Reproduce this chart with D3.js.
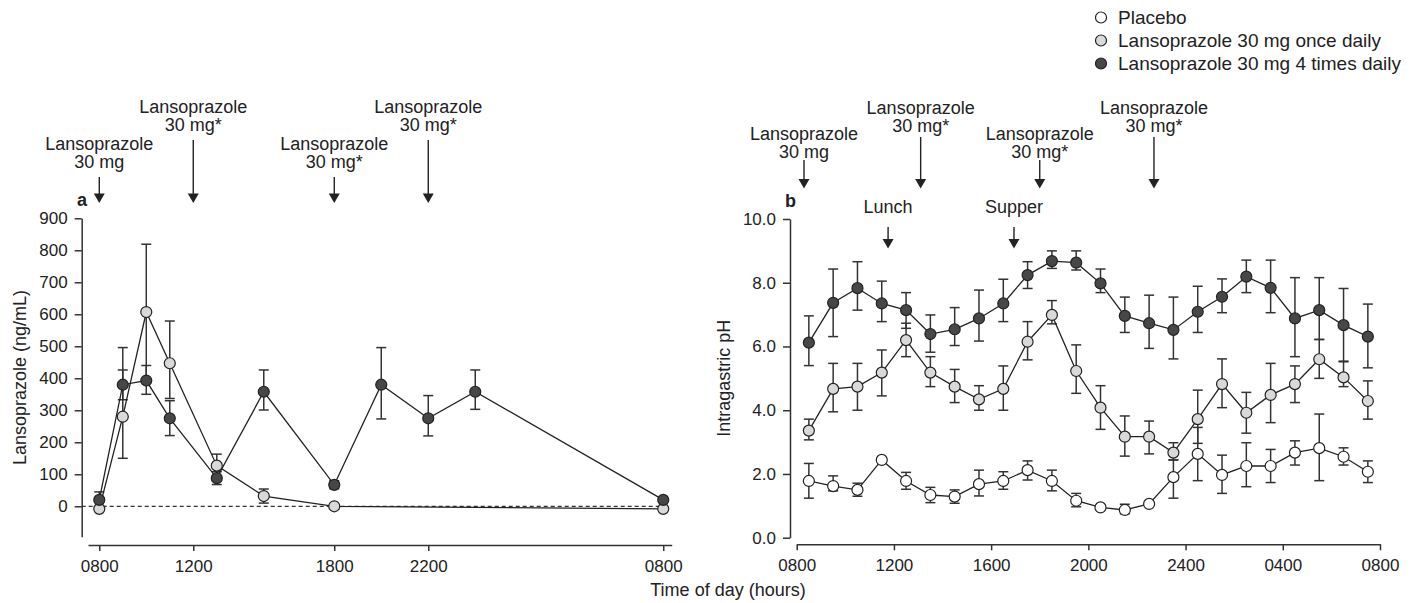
<!DOCTYPE html>
<html>
<head>
<meta charset="utf-8">
<script src="https://cdn.jsdelivr.net/npm/d3@7"></script>
<style>
  body { margin: 0; background: #fff; }
  svg text { font-family: "Liberation Sans", Arial, Helvetica, sans-serif; fill: #222; }
</style>
</head>
<body>
<svg id="chart" width="1415" height="603"></svg>
<script>
// ---- panel a: plasma lansoprazole (ng/mL) ----
const aQidHours = [8, 9, 10, 11, 13, 15, 18, 20, 22, 24, 32];
const aQid   = [20, 380, 393, 275, 88, 358, 67, 380, 275, 358, 20];
const aQidHi = [45, 426, 440, 330, 108, 426, 80, 496, 346, 426, 20];
const aQidLo = [0, 333, 350, 221, 68, 301, 55, 273, 220, 303, 20];

const aOnceHours = [8, 9, 10, 11, 13, 15, 18, 32];
const aOnce   = [-8, 280, 607, 447, 127, 32, 0, -8];
const aOnceHi = [-8, 496, 819, 579, 163, 54, 0, -8];
const aOnceLo = [-8, 150, 394, 337, 92, 10, 0, -8];

const aYTicks = [0, 100, 200, 300, 400, 500, 600, 700, 800, 900];
const aXTicks = [8, 12, 18, 22, 32];
const aXLabels = ["0800", "1200", "1800", "2200", "0800"];

const aDoseHours = [8, 12, 18, 22];
const aDoseRow = [1, 0, 1, 0];
const aDoseText = [["Lansoprazole", "30 mg"], ["Lansoprazole", "30 mg*"],
                   ["Lansoprazole", "30 mg*"], ["Lansoprazole", "30 mg*"]];

// ---- panel b: intragastric pH ----
const bHours = [8.5, 9.5, 10.5, 11.5, 12.5, 13.5, 14.5, 15.5, 16.5, 17.5, 18.5, 19.5,
                20.5, 21.5, 22.5, 23.5, 24.5, 25.5, 26.5, 27.5, 28.5, 29.5, 30.5, 31.5];

const bPlacebo   = [1.78, 1.62, 1.50, 2.44, 1.78, 1.34, 1.29, 1.68, 1.78, 2.12, 1.78, 1.16,
                    0.95, 0.87, 1.06, 1.90, 2.63, 1.97, 2.25, 2.25, 2.67, 2.81, 2.54, 2.07];
const bPlaceboHi = [2.33, 1.94, 1.71, 2.44, 2.05, 1.58, 1.50, 2.12, 2.07, 2.41, 2.12, 1.39,
                    0.95, 1.05, 1.06, 2.44, 3.46, 2.59, 2.98, 2.77, 3.04, 3.88, 2.82, 2.41];
const bPlaceboLo = [1.24, 1.47, 1.30, 2.44, 1.52, 1.10, 1.08, 1.31, 1.52, 1.81, 1.47, 0.97,
                    0.95, 0.75, 1.06, 1.24, 1.79, 1.39, 1.60, 1.73, 2.28, 1.79, 2.28, 1.73];

const bOnce   = [3.36, 4.67, 4.74, 5.18, 6.20, 5.18, 4.74, 4.34, 4.67, 6.15, 6.99, 5.23,
                 4.08, 3.17, 3.17, 2.67, 3.72, 4.82, 3.92, 4.48, 4.82, 5.60, 5.03, 4.29];
const bOnceHi = [3.72, 5.47, 5.47, 5.89, 6.73, 5.68, 5.28, 4.77, 5.39, 6.78, 7.44, 6.05,
                 4.77, 3.82, 3.66, 2.98, 4.63, 5.61, 4.56, 5.47, 5.39, 6.22, 5.52, 4.92];
const bOnceLo = [3.07, 3.95, 4.00, 4.45, 5.68, 4.74, 4.24, 4.00, 4.00, 5.58, 6.71, 4.53,
                 3.40, 2.56, 2.63, 2.44, 2.96, 4.08, 3.28, 3.61, 4.24, 5.00, 4.74, 3.72];

const bQid   = [6.12, 7.37, 7.83, 7.35, 7.14, 6.39, 6.54, 6.88, 7.35, 8.24, 8.68, 8.63,
                7.98, 6.96, 6.73, 6.52, 7.09, 7.56, 8.19, 7.84, 6.88, 7.14, 6.67, 6.31];
const bQidHi = [6.96, 8.43, 8.66, 8.05, 7.69, 6.99, 7.22, 7.77, 8.11, 8.66, 9.00, 9.00,
                8.43, 7.55, 7.61, 7.55, 7.89, 8.12, 8.71, 8.71, 8.16, 8.16, 7.82, 7.33];
const bQidLo = [5.40, 6.31, 7.14, 6.78, 6.57, 5.82, 6.03, 6.17, 6.78, 7.82, 8.45, 8.40,
                7.69, 6.44, 5.94, 5.61, 6.44, 7.06, 7.69, 7.06, 5.68, 6.22, 5.54, 5.33];

const bYTicks = [0, 2, 4, 6, 8, 10];
const bXTicks = [8, 12, 16, 20, 24, 28, 32];
const bXLabels = ["0800", "1200", "1600", "2000", "2400", "0400", "0800"];

const bDoseHours = [8.3, 13.1, 18, 22.7];
const bDoseRow = [1, 0, 1, 0];
const bDoseText = aDoseText;
const bMealHours = [11.76, 16.94];
const bMealText = ["Lunch", "Supper"];

const legendLabels = ["Placebo", "Lansoprazole 30 mg once daily", "Lansoprazole 30 mg 4 times daily"];
const fills = ["#ffffff", "#d9d9d9", "#474747"];

const ink = "#222";
const svg = d3.select("#chart");

// scales
const xa = d3.scaleLinear().domain([7.52, 32.36]).range([88, 671.7]);
const ya = d3.scaleLinear().domain([-95, 900]).range([536.7, 218.3]);
const xb = d3.scaleLinear().domain([8, 32]).range([796.7, 1380]);
const yb = d3.scaleLinear().domain([0, 10]).range([537.7, 219]);

function styleAxis(g) {
  g.select(".domain").attr("stroke", "#333").attr("stroke-width", 1.5);
  g.selectAll(".tick line").attr("stroke", "#333").attr("stroke-width", 1.5);
  g.selectAll(".tick text").style("font-size", "17px").attr("fill", ink);
}

// axes a
svg.append("g").attr("transform", "translate(81.7,0)")
  .call(d3.axisLeft(ya).tickValues(aYTicks).tickSize(7).tickPadding(7).tickSizeOuter(0))
  .call(styleAxis);
svg.append("g").attr("transform", "translate(0,545)")
  .call(d3.axisBottom(xa).tickValues(aXTicks).tickFormat((d, i) => aXLabels[i])
    .tickSize(6).tickPadding(9).tickSizeOuter(0))
  .call(styleAxis);

// axes b
svg.append("g").attr("transform", "translate(790,0)")
  .call(d3.axisLeft(yb).tickValues(bYTicks).tickFormat(d3.format(".1f"))
    .tickSize(7).tickPadding(7).tickSizeOuter(0))
  .call(styleAxis);
svg.append("g").attr("transform", "translate(0,544.3)")
  .call(d3.axisBottom(xb).tickValues(bXTicks).tickFormat((d, i) => bXLabels[i])
    .tickSize(6).tickPadding(9).tickSizeOuter(0))
  .call(styleAxis);

// zero reference in panel a
svg.append("line")
  .attr("x1", 81.7).attr("x2", xa(32))
  .attr("y1", ya(0)).attr("y2", ya(0))
  .attr("stroke", "#333").attr("stroke-width", 1.2)
  .attr("stroke-dasharray", "4,3");

// axis titles
svg.append("text").attr("transform", "translate(25.5," + (ya(900) + ya(-95)) / 2 + ") rotate(-90)")
  .attr("text-anchor", "middle").style("font-size", "18px").text("Lansoprazole (ng/mL)");
svg.append("text").attr("transform", "translate(729.8," + (yb(10) + yb(0)) / 2 + ") rotate(-90)")
  .attr("text-anchor", "middle").style("font-size", "18px").text("Intragastric pH");
svg.append("text").attr("x", 728).attr("y", 596)
  .attr("text-anchor", "middle").style("font-size", "18px").text("Time of day (hours)");

svg.append("text").attr("x", 77).attr("y", 206)
  .style("font-size", "18px").style("font-weight", "bold").text("a");
svg.append("text").attr("x", 785).attr("y", 206.5)
  .style("font-size", "18px").style("font-weight", "bold").text("b");

function arrow(x, y1, y2) {
  svg.append("line").attr("x1", x).attr("x2", x).attr("y1", y1).attr("y2", y2 - 8)
    .attr("stroke", ink).attr("stroke-width", 1.4);
  svg.append("path")
    .attr("d", `M${x - 5.5},${y2 - 9.5}L${x + 5.5},${y2 - 9.5}L${x},${y2}Z`)
    .attr("fill", ink);
}

function label(x, baseline, lines) {
  lines.forEach((t, i) => {
    svg.append("text").attr("x", x).attr("y", baseline + i * 18)
      .attr("text-anchor", "middle").style("font-size", "18px").text(t);
  });
}

// dose annotations a
aDoseHours.forEach((h, i) => {
  const x = xa(h);
  if (aDoseRow[i] === 0) { label(x, 112.5, aDoseText[i]); arrow(x, 140, 203); }
  else { label(x, 149.5, aDoseText[i]); arrow(x, 177, 203); }
});

// dose annotations b
bDoseHours.forEach((h, i) => {
  const x = xb(h);
  if (bDoseRow[i] === 0) { label(x, 113.5, bDoseText[i]); arrow(x, 137, 188.5); }
  else { label(x, 139.5, bDoseText[i]); arrow(x, 160, 188.5); }
});
bMealHours.forEach((h, i) => {
  const x = xb(h);
  label(x, 213, [bMealText[i]]);
  arrow(x, 227, 248.5);
});

// legend
legendLabels.forEach((t, i) => {
  const base = 24 + i * 23;
  svg.append("circle").attr("cx", 1101).attr("cy", base - 6.5).attr("r", 5.5)
    .attr("fill", fills[i]).attr("stroke", ink).attr("stroke-width", 1.2);
  svg.append("text").attr("x", 1118).attr("y", base).style("font-size", "19px").text(t);
});

// series drawing
function errBars(hours, hi, lo, x, y) {
  const g = svg.append("g").attr("stroke", "#333").attr("stroke-width", 1.5);
  hours.forEach((h, i) => {
    if (hi[i] === lo[i]) return;
    const cx = x(h);
    g.append("line").attr("x1", cx).attr("x2", cx).attr("y1", y(lo[i])).attr("y2", y(hi[i]));
    g.append("line").attr("x1", cx - 5).attr("x2", cx + 5).attr("y1", y(hi[i])).attr("y2", y(hi[i]));
    g.append("line").attr("x1", cx - 5).attr("x2", cx + 5).attr("y1", y(lo[i])).attr("y2", y(lo[i]));
  });
}
function seriesLine(hours, vals, x, y) {
  const line = d3.line().x((d, i) => x(hours[i])).y(d => y(d));
  svg.append("path").datum(vals).attr("d", line)
    .attr("fill", "none").attr("stroke", ink).attr("stroke-width", 1.3);
}
function dots(hours, vals, x, y, fill) {
  svg.append("g").selectAll("circle").data(vals).join("circle")
    .attr("cx", (d, i) => x(hours[i])).attr("cy", d => y(d)).attr("r", 5.5)
    .attr("fill", fill).attr("stroke", ink).attr("stroke-width", 1.2);
}

// panel a
errBars(aOnceHours, aOnceHi, aOnceLo, xa, ya);
errBars(aQidHours, aQidHi, aQidLo, xa, ya);
seriesLine(aOnceHours, aOnce, xa, ya);
seriesLine(aQidHours, aQid, xa, ya);
dots(aOnceHours, aOnce, xa, ya, fills[1]);
dots(aQidHours, aQid, xa, ya, fills[2]);

// panel b
errBars(bHours, bPlaceboHi, bPlaceboLo, xb, yb);
errBars(bHours, bOnceHi, bOnceLo, xb, yb);
errBars(bHours, bQidHi, bQidLo, xb, yb);
seriesLine(bHours, bPlacebo, xb, yb);
seriesLine(bHours, bOnce, xb, yb);
seriesLine(bHours, bQid, xb, yb);
dots(bHours, bPlacebo, xb, yb, fills[0]);
dots(bHours, bOnce, xb, yb, fills[1]);
dots(bHours, bQid, xb, yb, fills[2]);
</script>
</body>
</html>
